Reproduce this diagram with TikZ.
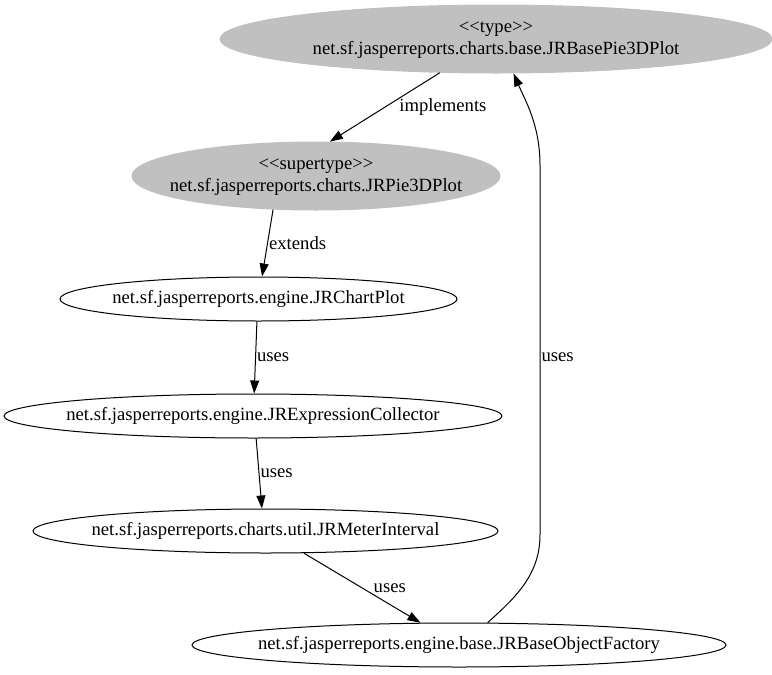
\documentclass[tikz,border=0pt]{standalone}
\usepackage{fontspec}
\setmainfont{Liberation Serif}
\usepackage{xcolor}
\usetikzlibrary{shapes,arrows.meta}
\definecolor{nodegray}{RGB}{192,192,192}
\newcommand{\clsname}[1]{\makebox[0pt]{\begin{tabular}{@{}c@{}}#1\end{tabular}}}

\begin{document}
\begin{tikzpicture}[x=1pt,y=-1pt,font=\fontsize{18.67}{22.4}\selectfont,
  >={Triangle[length=13pt,width=9pt]},line width=1pt,
  cls/.style={ellipse,draw,inner sep=0pt,minimum height=44pt},
  stereo/.style={ellipse,fill=nodegray,draw=nodegray,inner sep=0pt,minimum height=68pt},
  lbl/.style={inner sep=1pt,anchor=west}]
\useasboundingbox (0,0) rectangle (772,675);

\node[stereo,minimum width=552pt] (type) at (496,39)
  {\clsname{<\kern0pt<type>\kern0pt>\\net.sf.jasperreports.charts.base.JRBasePie3DPlot}};
\node[stereo,minimum width=368pt] (super) at (316,176)
  {\clsname{<\kern0pt<supertype>\kern0pt>\\net.sf.jasperreports.charts.JRPie3DPlot}};
\node[cls,minimum width=397pt] (plot) at (258.5,299) {\clsname{net.sf.jasperreports.engine.JRChartPlot}};
\node[cls,minimum width=498pt] (collector) at (253,416) {\clsname{net.sf.jasperreports.engine.JRExpressionCollector}};
\node[cls,minimum width=465pt] (meter) at (265.5,531) {\clsname{net.sf.jasperreports.charts.util.JRMeterInterval}};
\node[cls,minimum width=534pt] (factory) at (459,645) {\clsname{net.sf.jasperreports.engine.base.JRBaseObjectFactory}};

\draw[->] (type.211) -- node[lbl,xshift=13pt] (implLbl) {implements} (super.68);
\draw[->] (super.218) -- node[lbl] (extLbl) {extends} (plot.81);
\draw[->] (plot.266) -- node[lbl] (usesA) {uses} (collector.87);
\draw[->] (collector.-82) -- node[lbl] (usesB) {uses} (meter.99);
\draw[->] (meter.-30) -- node[lbl,xshift=10pt] (usesC) {uses} (factory.150);
\draw[->] (factory.38) .. controls (515,598) and (540,575) .. (540,535)
  -- node[lbl,pos=0.48] (usesD) {uses} (540,165)
  .. controls (540,125) and (525,100) .. (type.-63);
\end{tikzpicture}
\end{document}
